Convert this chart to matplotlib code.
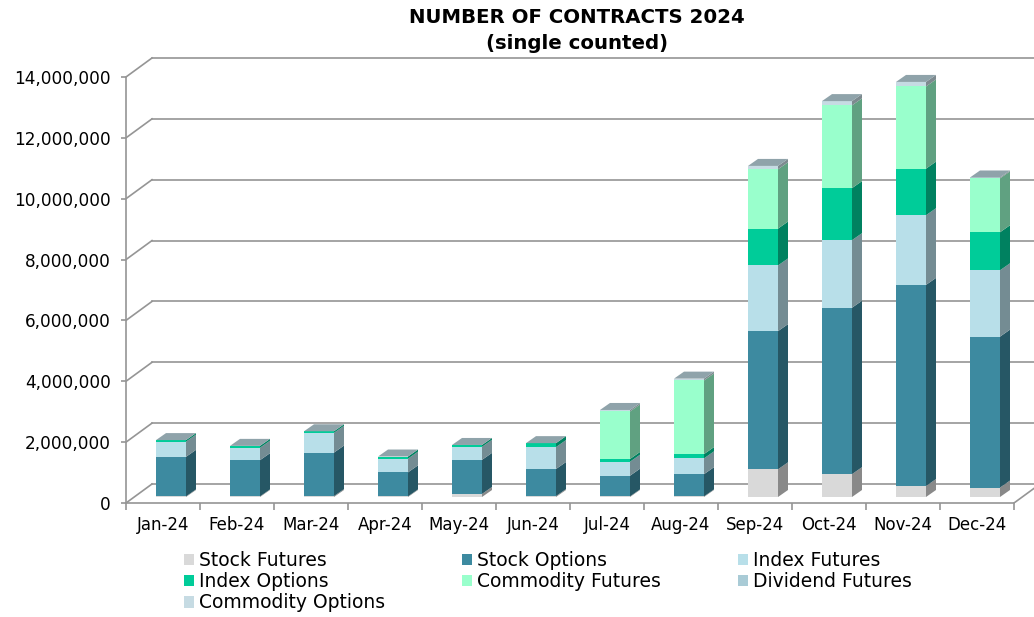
import numpy as np
import matplotlib.pyplot as plt
from matplotlib.patches import Polygon, Patch
from matplotlib.ticker import FuncFormatter
from matplotlib.colors import to_rgb

# monthly contracts per product (single counted)
months = ["Jan-24", "Feb-24", "Mar-24", "Apr-24", "May-24", "Jun-24",
          "Jul-24", "Aug-24", "Sep-24", "Oct-24", "Nov-24", "Dec-24"]
stock_futures = [20000, 20000, 30000, 20000, 100000, 30000,
                 20000, 20000, 910000, 750000, 360000, 310000]
stock_options = [1300000, 1190000, 1430000, 790000, 1120000, 890000,
                 680000, 730000, 4540000, 5470000, 6610000, 4960000]
index_futures = [500000, 410000, 650000, 450000, 430000, 720000,
                 460000, 520000, 2160000, 2220000, 2290000, 2180000]
index_options = [50000, 60000, 50000, 70000, 60000, 130000,
                 90000, 140000, 1210000, 1710000, 1530000, 1250000]
commodity_futures = [0, 0, 0, 0, 0, 0,
                     1560000, 2420000, 1950000, 2720000, 2700000, 1770000]
dividend_futures = [0, 0, 0, 0, 0, 0, 0, 0, 0, 0, 0, 0]
commodity_options = [0, 0, 0, 0, 0, 0,
                     50000, 60000, 110000, 140000, 150000, 30000]

series = [
    ("Stock Futures", stock_futures, "#d9d9d9"),
    ("Stock Options", stock_options, "#3d8aa0"),
    ("Index Futures", index_futures, "#b8dfe9"),
    ("Index Options", index_options, "#00cc99"),
    ("Commodity Futures", commodity_futures, "#99ffcc"),
    ("Dividend Futures", dividend_futures, "#a9cbd6"),
    ("Commodity Options", commodity_options, "#c6dbe3"),
]


def shade(c, f):
    return tuple(v * f for v in to_rgb(c))


W, H = 1034, 617
fig = plt.figure(figsize=(W / 100, H / 100), dpi=100)

# front plane: x -0.5..11.5 -> px 126..1014, y 0 -> px 503, 30.43 px per million
px_cat = (1014 - 126) / 12
px_val = 30.43 / 1e6
xlim = (-0.5, -0.5 + (W - 126) / px_cat)
ylim = (0, (503 - 40) / px_val)
ax = fig.add_axes([126 / W, (H - 503) / H, (W - 126) / W, (503 - 40) / H])
ax.set_xlim(*xlim)
ax.set_ylim(*ylim)

# depth offsets (converted from pixels into data units)
back_dx, back_dy = 26 / px_cat, 19 / px_val
bar_dx, bar_dy = 8 / px_cat, 6 / px_val
dep_dx, dep_dy = 10 / px_cat, 7 / px_val
bar_w = 30 / px_cat

grid_c = "#959595"
yticks = np.arange(0, 14e6 + 1, 2e6)
for v in yticks:
    ax.plot([-0.5, -0.5 + back_dx], [v, v + back_dy], color=grid_c, lw=1.2, zorder=1)
    ax.plot([-0.5 + back_dx, 11.5 + back_dx], [v + back_dy, v + back_dy],
            color=grid_c, lw=1.2, zorder=1)
ax.plot([11.5, 11.5 + back_dx], [0, back_dy], color=grid_c, lw=1.2, zorder=1)

x = np.arange(len(months))
xb = x + bar_dx
bottom = np.zeros(len(months))
z = 3
for name, vals, col in series:
    vals = np.array(vals, dtype=float)
    b0 = bottom + bar_dy
    ax.bar(xb, vals, width=bar_w, bottom=b0, color=col, zorder=z, linewidth=0)
    side = shade(col, 0.63)
    for i in range(len(x)):
        if vals[i] <= 0:
            continue
        xr = xb[i] + bar_w / 2
        ax.add_patch(Polygon([(xr, b0[i]), (xr + dep_dx, b0[i] + dep_dy),
                              (xr + dep_dx, b0[i] + vals[i] + dep_dy),
                              (xr, b0[i] + vals[i])],
                             closed=True, facecolor=side, edgecolor="none", zorder=z))
    bottom = bottom + vals
    z += 1

# top faces
top_c = "#8fa3aa"
for i in range(len(x)):
    yt = bottom[i] + bar_dy
    xl, xr = xb[i] - bar_w / 2, xb[i] + bar_w / 2
    ax.add_patch(Polygon([(xl, yt), (xr, yt), (xr + dep_dx, yt + dep_dy),
                          (xl + dep_dx, yt + dep_dy)],
                         closed=True, facecolor=top_c, edgecolor="none", zorder=z))

for s in ["top", "right"]:
    ax.spines[s].set_visible(False)
ax.spines["left"].set_bounds(0, 14e6)
ax.spines["bottom"].set_bounds(-0.5, 11.5)
for s in ["left", "bottom"]:
    ax.spines[s].set_color(grid_c)
    ax.spines[s].set_linewidth(1.2)

ax.set_yticks(yticks)
ax.yaxis.set_major_formatter(FuncFormatter(lambda v, p: f"{int(v):,}"))
ax.set_xticks(np.arange(-0.5, 12, 1))
ax.set_xticklabels([])
ax.set_xticks(x, minor=True)
ax.set_xticklabels(months, minor=True)
ax.tick_params(axis="x", which="major", length=5, color=grid_c, width=1.2)
ax.tick_params(axis="x", which="minor", length=0, labelsize=12, pad=9)
ax.tick_params(axis="y", length=3.6, color=grid_c, width=1.2, labelsize=12.2, pad=7.5)

fig.text(577 / W, 1 - 8 / H, "NUMBER OF CONTRACTS 2024\n(single counted)",
         ha="center", va="top", fontsize=14.2, fontweight="bold", linespacing=1.45)

handles = [Patch(facecolor=c, edgecolor="none", label=n) for n, _, c in series]
order = [0, 3, 6, 1, 4, 2, 5]
fig.legend([handles[i] for i in order], [series[i][0] for i in order],
           ncol=3, loc="upper left", bbox_to_anchor=(184 / W, 1 - 551 / H),
           frameon=False, fontsize=13.5, handlelength=0.55, handleheight=0.55,
           handletextpad=0.25, columnspacing=4.1, labelspacing=0.12,
           borderaxespad=0, borderpad=0)

fig.savefig("out.png", dpi=100)
